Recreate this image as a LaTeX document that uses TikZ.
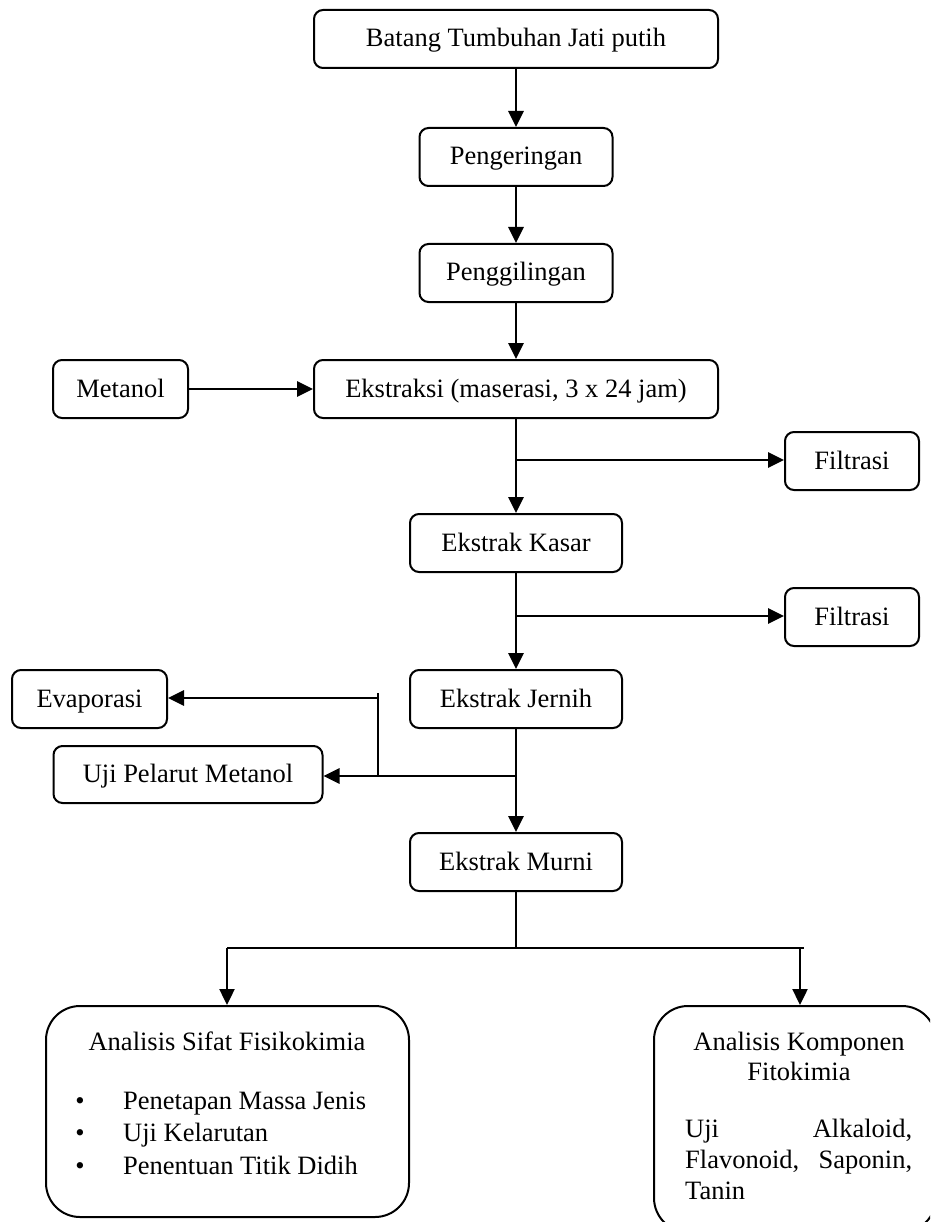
\documentclass[tikz,border=0pt]{standalone}
\usepackage{fontspec}
\setmainfont{Liberation Serif}
\usetikzlibrary{arrows.meta}
\begin{document}
\begin{tikzpicture}[x=1pt,y=-1pt,
  box/.style={draw, line width=2pt, rounded corners=9pt, minimum height=58pt, inner sep=0pt, text height=20pt, text depth=4pt, font=\fontsize{26.5}{32}\selectfont},
  big/.style={draw, line width=2pt, rounded corners=34pt, inner sep=0pt},
  txt/.style={inner sep=0pt, font=\fontsize{26.5}{32}\selectfont},
  conn/.style={line width=2.8pt, -{Triangle[length=16pt,width=15pt]}},
  thinconn/.style={line width=2.4pt, -{Triangle[length=16pt,width=15pt]}},
  plain/.style={line width=2.2pt}]
\useasboundingbox (0,0) rectangle (930,1222);
\clip (0,0) rectangle (930,1222);
% main column
\node[box, minimum width=404pt] (top) at (516,39) {Batang Tumbuhan Jati putih};
\node[box, minimum width=193pt] (peng) at (516,157) {Pengeringan};
\node[box, minimum width=193pt] (gil) at (516,273) {Penggilingan};
\node[box, minimum width=404pt] (eks) at (516,389) {Ekstraksi (maserasi, 3 x 24 jam)};
\node[box, minimum width=135pt] (met) at (120.5,389) {Metanol};
\node[box, minimum width=212pt] (kasar) at (516,543) {Ekstrak Kasar};
\node[box, minimum width=134pt] (fil1) at (852,461) {Filtrasi};
\node[box, minimum width=134pt] (fil2) at (852,617) {Filtrasi};
\node[box, minimum width=212pt] (jern) at (516,699) {Ekstrak Jernih};
\node[box, minimum width=155pt] (evap) at (89.5,699) {Evaporasi};
\node[box, minimum width=269pt, minimum height=57pt] (uji) at (188,774.5) {Uji Pelarut Metanol};
\node[box, minimum width=212pt] (murni) at (516,862) {Ekstrak Murni};
% big boxes
\node[big, minimum width=363pt, minimum height=211pt] (fis) at (227.5,1111.5) {};
\node[big, minimum width=282pt, minimum height=226pt] (fito) at (795,1119) {};
% texts in big boxes
\node[txt, anchor=base] (fisT) at (227,1050) {Analisis Sifat Fisikokimia};
\node[txt, anchor=base] (bu1) at (80,1109) {\textbullet};
\node[txt, anchor=base] (bu2) at (80,1141) {\textbullet};
\node[txt, anchor=base] (bu3) at (80,1174) {\textbullet};
\node[txt, anchor=base west] (l1) at (123,1109) {Penetapan Massa Jenis};
\node[txt, anchor=base west] (l2) at (123,1141) {Uji Kelarutan};
\node[txt, anchor=base west] (l3) at (123,1174) {Penentuan Titik Didih};
\node[txt, anchor=base] (fitoT1) at (799,1050) {Analisis Komponen};
\node[txt, anchor=base] (fitoT2) at (799,1080) {Fitokimia};
\node[txt, anchor=base west] (r1) at (685,1137) {\makebox[227pt][l]{Uji\hfill Alkaloid,}};
\node[txt, anchor=base west] (r2) at (685,1168) {\makebox[227pt][l]{Flavonoid,\hfill Saponin,}};
\node[txt, anchor=base west] (r3) at (685,1199) {Tanin};
% connectors
\draw[conn] (top) -- (peng);
\draw[conn] (peng) -- (gil);
\draw[conn] (gil) -- (eks);
\draw[conn] (met) -- (eks);
\draw[conn] (eks) -- (kasar);
\coordinate (j1) at (516,460);
\draw[conn] (j1) -- (j1 -| fil1.west);
\draw[conn] (kasar) -- (jern);
\coordinate (j2) at (516,616);
\draw[conn] (j2) -- (j2 -| fil2.west);
\draw[conn] (jern) -- (murni);
\coordinate (j3) at (516,776);
\draw[conn] (j3) -- (j3 -| uji.east);
\coordinate (v0) at (378,693);
\coordinate (v1) at (378,776);
\coordinate (v2) at (378,698);
\draw[plain] (v0) -- (v1);
\draw[conn] (v2) -- (v2 -| evap.east);
\coordinate (j4) at (516,948);
\coordinate (hl) at (227,948);
\coordinate (hr) at (804,948);
\coordinate (hr2) at (800,948);
\draw[plain] (murni) -- (j4);
\draw[plain] (hl) -- (hr);
\draw[thinconn] (hl) -- (hl |- fis.north);
\draw[thinconn] (hr2) -- (hr2 |- fito.north);
\end{tikzpicture}
\end{document}
